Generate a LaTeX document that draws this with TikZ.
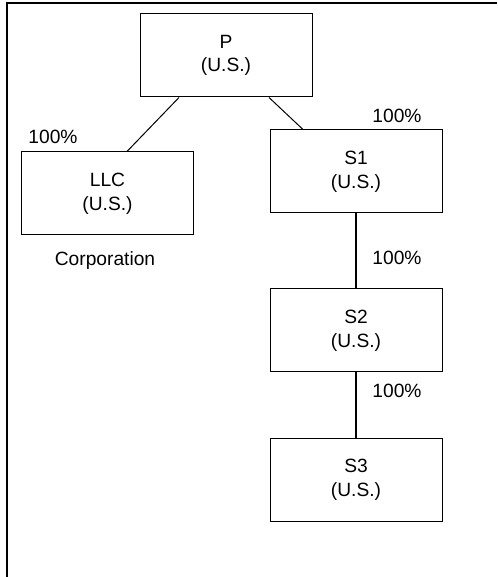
\documentclass[tikz,border=0pt]{standalone}
\usepackage{fontspec}
\setmainfont{Liberation Sans}
\usepackage{tikz}

\begin{document}
\begin{tikzpicture}[x=0.75pt, y=0.75pt,
  entita/.style={draw, line width=0.75pt, minimum width=129pt, minimum height=62.25pt,
    align=center, inner sep=0pt, font=\fontsize{14.4}{17.8}\selectfont},
  quota/.style={anchor=base, inner sep=0pt, font=\fontsize{14.4}{17.8}\selectfont}]
 			%%%	Cornice
 			\useasboundingbox (0,0) rectangle (497,577);
 			\draw[line width=1.5pt] (6.8,0) -- (6.8,574.3) -- (497,574.3);
 			%%%	Riquadri
 			\node[entita] (P) at (226,521.5) {P\\(U.S.)};
 			\node[entita] (LLC) at (107.5,383.5) {LLC\\(U.S.)};
 			\node[entita] (S1) at (356,405.5) {S1\\(U.S.)};
 			\node[entita] (S2) at (356,246.5) {S2\\(U.S.)};
 			\node[entita] (S3) at (356,97) {S3\\(U.S.)};
 			%%%	Linee
 			\draw[line width=0.75pt] ([xshift=-35.25pt]P.south) -- ([xshift=14.6pt]LLC.north);
 			\draw[line width=0.75pt] ([xshift=32.25pt]P.south) -- ([xshift=-39.75pt]S1.north);
 			\draw[line width=0.9pt] (S1) -- (S2);
 			\draw[line width=0.9pt] (S2) -- (S3);
 			%%%	Percentuali
 			\node[quota] (qLLC) at (53,433) {100\%};
 			\node[quota] (qS1) at (397,454) {100\%};
 			\node[quota] (qS2) at (397,312) {100\%};
 			\node[quota] (qS3) at (397,179) {100\%};
 			\node[quota] (corp) at (105,311) {Corporation};
\end{tikzpicture}
\end{document}
